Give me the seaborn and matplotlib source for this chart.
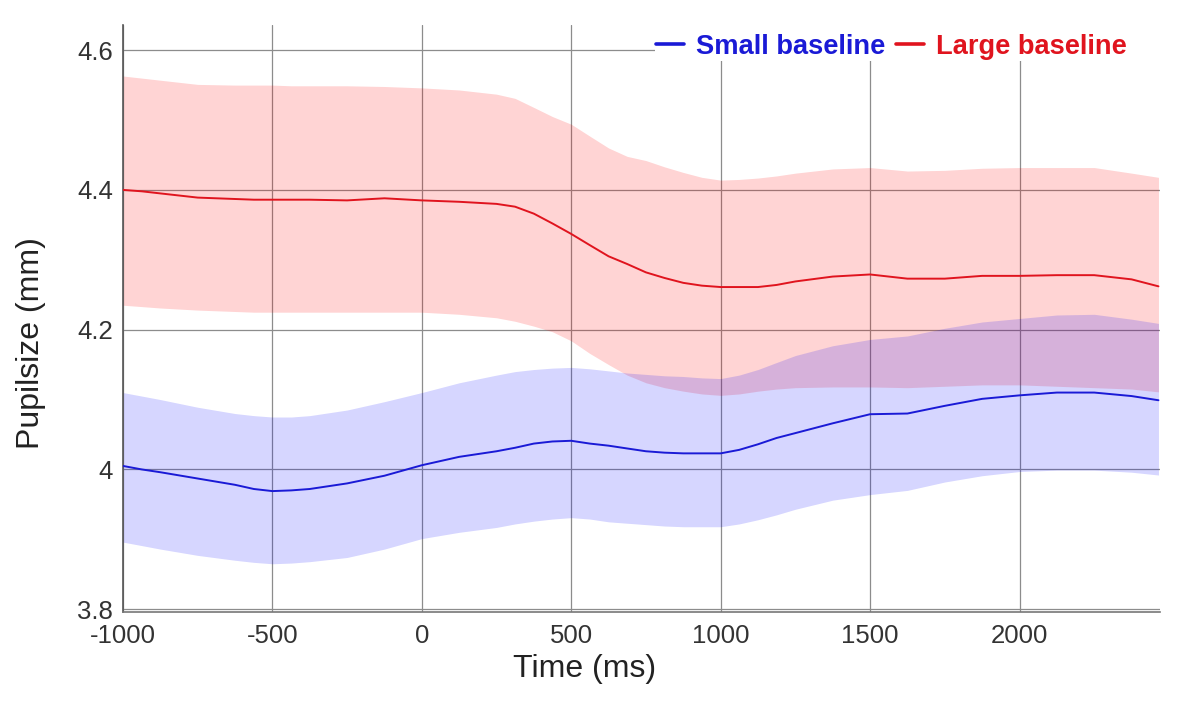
import matplotlib
matplotlib.use('Agg')
import matplotlib.pyplot as plt
from matplotlib.patches import Rectangle
import seaborn as sns
import pandas as pd

# time axis (ms)
time_ms = [-1000, -937, -875, -750, -625, -562, -500, -437, -375, -250, -125, 0, 125, 250,
           312, 375, 437, 500, 562, 625, 687, 750, 812, 875, 937, 1000, 1062, 1125, 1187,
           1250, 1375, 1500, 1625, 1750, 1875, 2000, 2125, 2250, 2375, 2465]

# Small baseline: mean and band
small_mean = [4.005, 4.000, 3.996, 3.987, 3.978, 3.972, 3.969, 3.970, 3.972, 3.980, 3.991,
              4.006, 4.018, 4.026, 4.031, 4.037, 4.040, 4.041, 4.037, 4.034, 4.030, 4.026,
              4.024, 4.023, 4.023, 4.023, 4.028, 4.036, 4.045, 4.052, 4.066, 4.079, 4.080,
              4.091, 4.101, 4.106, 4.110, 4.110, 4.105, 4.099]
small_upper = [4.110, 4.105, 4.100, 4.089, 4.080, 4.077, 4.075, 4.075, 4.077, 4.085, 4.097,
               4.110, 4.124, 4.135, 4.140, 4.143, 4.145, 4.146, 4.144, 4.141, 4.138, 4.136,
               4.134, 4.133, 4.131, 4.130, 4.135, 4.143, 4.153, 4.163, 4.177, 4.186, 4.191,
               4.202, 4.211, 4.216, 4.221, 4.222, 4.215, 4.209]
small_lower = [3.896, 3.891, 3.886, 3.877, 3.870, 3.867, 3.865, 3.866, 3.868, 3.874, 3.886,
               3.901, 3.910, 3.917, 3.922, 3.926, 3.929, 3.931, 3.929, 3.925, 3.923, 3.921,
               3.919, 3.918, 3.918, 3.918, 3.922, 3.928, 3.935, 3.943, 3.956, 3.964, 3.970,
               3.982, 3.991, 3.997, 3.999, 3.999, 3.996, 3.992]

# Large baseline: mean and band
large_mean = [4.400, 4.398, 4.395, 4.389, 4.387, 4.386, 4.386, 4.386, 4.386, 4.385, 4.388,
              4.385, 4.383, 4.380, 4.376, 4.366, 4.352, 4.337, 4.321, 4.305, 4.294, 4.282,
              4.274, 4.267, 4.263, 4.261, 4.261, 4.261, 4.264, 4.269, 4.276, 4.279, 4.273,
              4.273, 4.277, 4.277, 4.278, 4.278, 4.272, 4.262]
large_upper = [4.563, 4.560, 4.557, 4.551, 4.550, 4.550, 4.550, 4.549, 4.549, 4.549, 4.548,
               4.546, 4.543, 4.537, 4.531, 4.518, 4.505, 4.494, 4.477, 4.460, 4.448, 4.442,
               4.433, 4.425, 4.418, 4.414, 4.415, 4.417, 4.420, 4.424, 4.430, 4.432, 4.427,
               4.428, 4.431, 4.432, 4.432, 4.432, 4.424, 4.418]
large_lower = [4.235, 4.233, 4.231, 4.228, 4.226, 4.225, 4.225, 4.225, 4.225, 4.225, 4.225,
               4.225, 4.222, 4.217, 4.212, 4.205, 4.197, 4.184, 4.166, 4.150, 4.135, 4.124,
               4.117, 4.112, 4.108, 4.106, 4.108, 4.112, 4.115, 4.117, 4.118, 4.118, 4.117,
               4.119, 4.121, 4.121, 4.119, 4.117, 4.115, 4.111]

x_ticks = [-1000, -500, 0, 500, 1000, 1500, 2000]
y_ticks = [3.8, 4.0, 4.2, 4.4, 4.6]
y_ticklabels = ['3.8', '4', '4.2', '4.4', '4.6']

df = pd.DataFrame({'time': time_ms, 'small': small_mean, 'large': large_mean})

sns.set_style('white')
plt.rcParams['font.family'] = ['Liberation Sans', 'DejaVu Sans']
plt.rcParams['axes.unicode_minus'] = False

blue = '#1a1ad6'
red = '#e0141e'

fig = plt.figure(figsize=(11.88, 7.04), dpi=100)
ax = fig.add_axes([0.1035, 0.1307, 0.8729, 0.8338])

ax.fill_between(time_ms, large_lower, large_upper, color='#ff0000', alpha=0.17, lw=0, zorder=1)
ax.fill_between(time_ms, small_lower, small_upper, color='#0000ff', alpha=0.16, lw=0, zorder=1)
sns.lineplot(data=df, x='time', y='small', color=blue, lw=1.4, ax=ax, label='Small baseline', zorder=3)
sns.lineplot(data=df, x='time', y='large', color=red, lw=1.4, ax=ax, label='Large baseline', zorder=3)

ax.set_xlim(-1000, 2470)
ax.set_ylim(3.796, 4.636)
ax.set_xticks(x_ticks)
ax.set_yticks(y_ticks)
ax.set_yticklabels(y_ticklabels)
ax.grid(True, color='#8c8c8c', lw=0.9)
for gl in ax.get_xgridlines() + ax.get_ygridlines():
    gl.set_zorder(2)

ax.tick_params(axis='both', length=0, labelsize=18.5, colors='#333333')
ax.tick_params(axis='x', pad=9)
ax.tick_params(axis='y', pad=7)

for s in ['top', 'right']:
    ax.spines[s].set_visible(False)
ax.spines['left'].set_color('#555555')
ax.spines['bottom'].set_color('#777777')
ax.spines['left'].set_linewidth(1.2)
ax.spines['bottom'].set_linewidth(1.2)

ax.set_xlabel('Time (ms)', fontsize=23, color='#222222')
ax.set_ylabel('Pupilsize (mm)', fontsize=23, color='#222222')
ax.xaxis.set_label_coords(0.4455, -0.072)
ax.yaxis.set_label_coords(-0.074, 0.458)

# white strip behind the legend (hides the grid there)
ax.add_patch(Rectangle((0.513, 0.938), 0.487, 0.07, transform=ax.transAxes,
                       facecolor='white', edgecolor='none', zorder=4, clip_on=False))

leg = ax.legend(loc='center left', bbox_to_anchor=(0.511, 0.9625), ncol=2, frameon=False,
                handlelength=1.04, handletextpad=0.44, columnspacing=0.4,
                borderpad=0.1, borderaxespad=0, labelcolor='linecolor',
                prop={'weight': 'bold', 'size': 19.6})
for h in leg.get_lines():
    h.set_linewidth(2.6)
leg.set_zorder(5)

fig.savefig('out.png', dpi=100)
